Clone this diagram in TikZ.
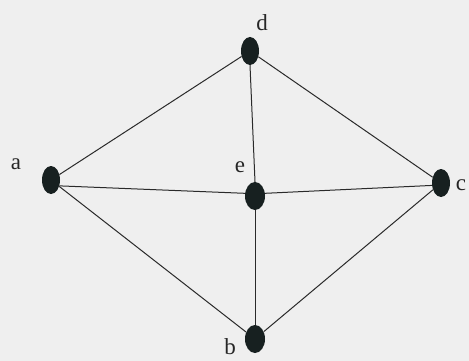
\documentclass[tikz,border=0pt]{standalone}
\usepackage{fontspec}
\usetikzlibrary{shapes.geometric}
\setmainfont{Liberation Serif}
\definecolor{bg}{HTML}{EFEFEF}
\definecolor{vert}{HTML}{172020}
\definecolor{edge}{HTML}{2A2A2A}
\begin{document}
\begin{tikzpicture}[x=1pt,y=-1pt,
  vtx/.style={ellipse,fill=vert,minimum width=18pt,minimum height=28pt,inner sep=0pt},
  lbl/.style={font=\fontsize{23}{23}\selectfont,text=black!85,inner sep=0pt},
  edg/.style={draw=edge,line width=1pt}]
\fill[bg] (0,0) rectangle (469,361);
\useasboundingbox (0,0) rectangle (469,361);
\node[vtx] (d) at (250,51) {};
\node[vtx] (a) at (51,180) {};
\node[vtx] (c) at (441,183) {};
\node[vtx,minimum width=20pt] (e) at (255,196) {};
\node[vtx,minimum width=20pt] (b) at (255,339) {};
\node[lbl] (ld) at (262,23) {d};
\node[lbl] (la) at (16,164) {a};
\node[lbl] (le) at (240,167) {e};
\node[lbl] (lc) at (461,185) {c};
\node[lbl,anchor=base] (lb) at (230,354) {b};
\draw[edg] (d) -- (a);
\draw[edg] (d) -- (c);
\draw[edg] (d.south) -- (e.north);
\draw[edg] (a.-35) -- (e.165);
\draw[edg] (e.15) -- (c.195);
\draw[edg] (e.south) -- (b.north);
\draw[edg] (a) -- (b);
\draw[edg] (c) -- (b);
\end{tikzpicture}
\end{document}
